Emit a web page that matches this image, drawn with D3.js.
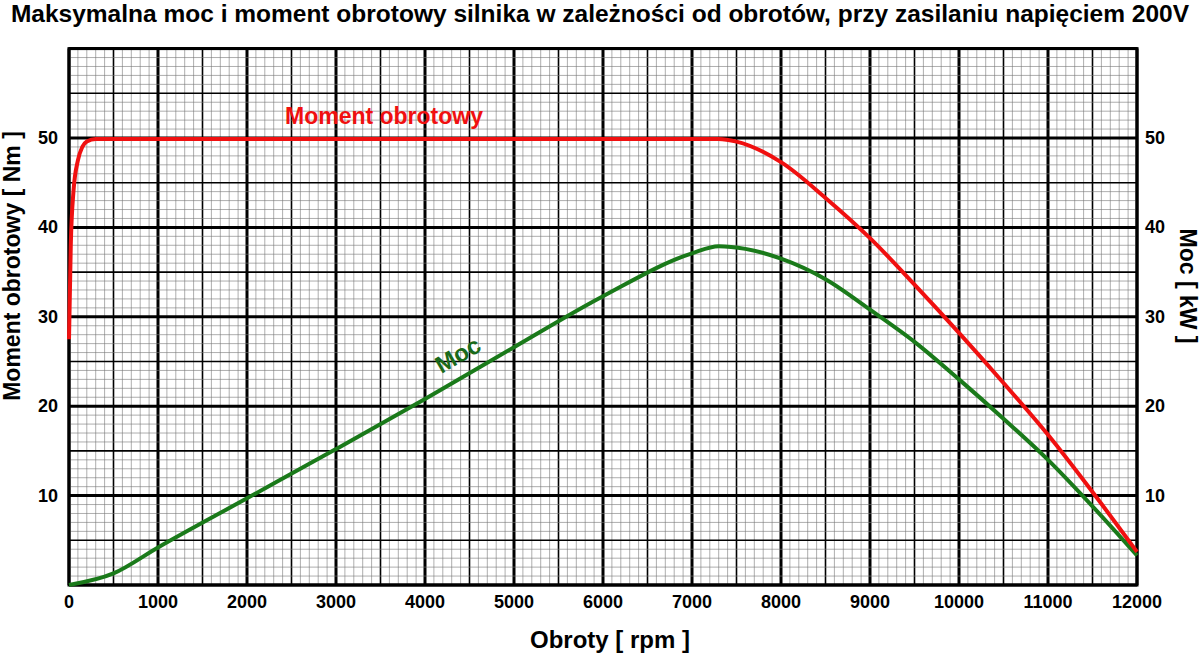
<!DOCTYPE html><html><head><meta charset="utf-8"><script src="https://cdn.jsdelivr.net/npm/d3@7"></script>
<style>body{margin:0;background:#fff}text{font-family:"Liberation Sans",Arial,sans-serif;font-weight:bold}</style></head><body><svg width="1200" height="656"></svg><script>
const rpm=[0,20,50,100,150,200,300,1000,3000,5000,7000,7300,7500,8000,8500,9000,9500,10000,10500,11000,11500,12000];
const moment=[27.5,38,44,47.5,49,49.6,49.9,49.9,49.9,49.9,49.9,49.9,49.6,47.3,43.3,38.8,33.6,28.2,22.6,16.8,10.4,3.7];
const rpmP=[0,500,1000,2000,3000,4000,5000,6000,7000,7300,7600,8000,8500,9000,9500,10000,10500,11000,11500,12000];
const power=[0,1.3,4.2,9.7,15.2,20.8,26.6,32.3,37.1,37.9,37.6,36.5,34.2,30.8,27.2,23,18.6,14,8.8,3.3];
const yTicks=[10,20,30,40,50];
const xTicks=d3.range(0,12001,1000);
const svg=d3.select("svg");
const x=d3.scaleLinear().domain([0,12000]).range([69,1137]);
const y=d3.scaleLinear().domain([0,60]).range([585,48.6]);
const g=svg.append("g");
d3.range(0,12001,100).forEach(v=>{const w=v%1000===0?3:v%500===0?1.6:0.6;const c=v%500===0?"#000":"#777";
g.append("line").attr("x1",x(v)).attr("x2",x(v)).attr("y1",y(0)).attr("y2",y(60)).attr("stroke",c).attr("stroke-width",w);});
d3.range(0,61,1).forEach(v=>{const w=v%10===0?3:v%5===0?1.6:0.6;const c=v%5===0?"#000":"#777";
g.append("line").attr("y1",y(v)).attr("y2",y(v)).attr("x1",x(0)).attr("x2",x(12000)).attr("stroke",c).attr("stroke-width",w);});
g.append("rect").attr("x",x(0)).attr("y",y(60)).attr("width",x(12000)-x(0)).attr("height",y(0)-y(60)).attr("fill","none").attr("stroke","#000").attr("stroke-width",3);
const line=d3.line().curve(d3.curveMonotoneX);
svg.append("path").attr("d",line(rpmP.map((r,i)=>[x(r),y(power[i])]))).attr("fill","none").attr("stroke","#1a7a1a").attr("stroke-width",4);
svg.append("path").attr("d",line(rpm.map((r,i)=>[x(r),y(moment[i])]))).attr("fill","none").attr("stroke","#f01010").attr("stroke-width",4);
xTicks.forEach(v=>svg.append("text").attr("x",x(v)).attr("y",608).attr("text-anchor","middle").attr("font-size",18).text(v));
yTicks.forEach(v=>{svg.append("text").attr("x",58).attr("y",y(v)+6).attr("text-anchor","end").attr("font-size",18).text(v);
svg.append("text").attr("x",1145).attr("y",y(v)+6).attr("font-size",18).text(v);});
svg.append("text").attr("x",600).attr("y",22).attr("text-anchor","middle").attr("font-size",24.5).text("Maksymalna moc i moment obrotowy silnika w zależności od obrotów, przy zasilaniu napięciem 200V");
svg.append("text").attr("x",610).attr("y",648).attr("text-anchor","middle").attr("font-size",24).text("Obroty [ rpm ]");
svg.append("text").attr("transform","translate(20,266) rotate(-90)").attr("text-anchor","middle").attr("font-size",23).text("Moment obrotowy [ Nm ]");
svg.append("text").attr("transform","translate(1180,286) rotate(90)").attr("text-anchor","middle").attr("font-size",23).text("Moc [ kW ]");
svg.append("text").attr("x",384).attr("y",124).attr("text-anchor","middle").attr("font-size",23).attr("fill","#f01010").text("Moment obrotowy");
svg.append("text").attr("transform","translate(462,362) rotate(-30)").attr("text-anchor","middle").attr("font-size",24).attr("fill","#1a6a1a").text("Moc");
</script></body></html>
